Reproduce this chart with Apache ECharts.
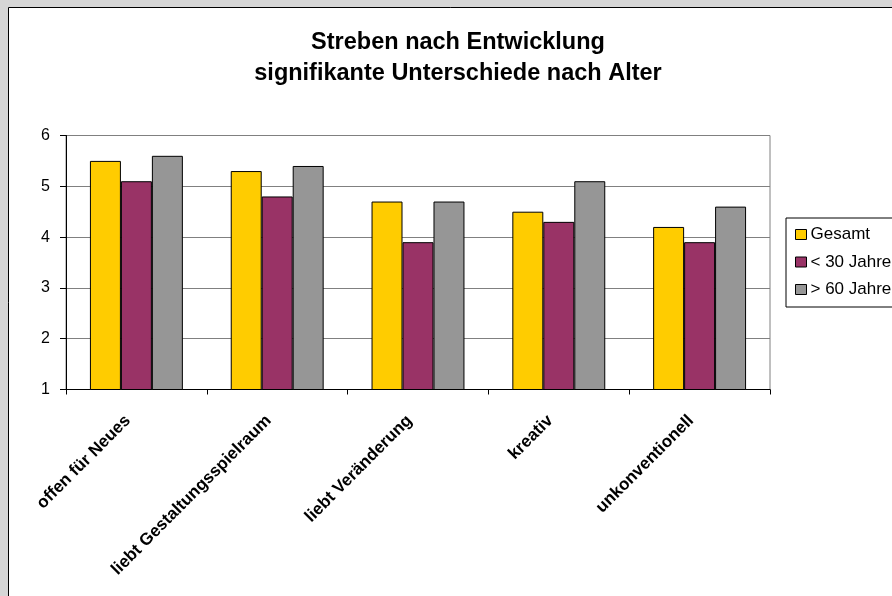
<!DOCTYPE html>
<html>
<head>
<meta charset="utf-8">
<script src="https://cdn.jsdelivr.net/npm/echarts@6/dist/echarts.min.js"></script>
<style>
  html, body { margin: 0; padding: 0; background: #d6d6d6; }
  #chart { width: 892px; height: 596px; }
</style>
</head>
<body>
<div id="chart"></div>
<script>
// Mittelwerte je Merkmal und Altersgruppe
const categories = ['offen für Neues', 'liebt Gestaltungsspielraum', 'liebt Veränderung', 'kreativ', 'unkonventionell'];
const gesamt   = [5.5, 5.3, 4.7, 4.5, 4.2];
const unter30  = [5.1, 4.8, 3.9, 4.3, 3.9];
const ueber60  = [5.6, 5.4, 4.7, 5.1, 4.6];
const seriesNames = ['Gesamt', '< 30 Jahre', '> 60 Jahre'];
const yTicks = [1, 2, 3, 4, 5, 6];

const colors = ['#FFCC00', '#993366', '#969696'];
const font = 'Liberation Sans, Arial, sans-serif';

const chart = echarts.init(document.getElementById('chart'), null, { renderer: 'canvas' });

function bar(name, data, color) {
  return {
    name: name,
    type: 'bar',
    data: data,
    barWidth: '22%',
    barGap: '0%',
    itemStyle: { color: color, borderColor: '#000', borderWidth: 1 },
    emphasis: { disabled: true }
  };
}

chart.setOption({
  animation: false,
  backgroundColor: '#d6d6d6',
  graphic: [
    {
      type: 'rect',
      z: -10,
      shape: { x: 8.5, y: 7.5, width: 900, height: 600 },
      style: { fill: '#fff', stroke: '#000', lineWidth: 1 }
    },
    {
      type: 'text',
      x: 458,
      y: 27,
      style: {
        text: 'Streben nach Entwicklung\nsignifikante Unterschiede nach Alter',
        fill: '#000',
        font: 'bold 23.5px ' + font,
        lineHeight: 31,
        align: 'center',
        verticalAlign: 'top'
      }
    }
  ],
  legend: {
    orient: 'vertical',
    left: 786,
    top: 218,
    padding: [8, 40, 9, 9],
    itemGap: 10.5,
    itemWidth: 11,
    itemHeight: 10,
    borderColor: '#000',
    borderWidth: 1,
    backgroundColor: '#fff',
    icon: 'rect',
    itemStyle: { borderColor: '#000', borderWidth: 1 },
    textStyle: { fontFamily: font, fontSize: 17, color: '#000', padding: [0, 0, 0, -1] },
    data: seriesNames
  },
  grid: {
    left: 66, right: 122, top: 135.5, bottom: 206.5,
    show: true,
    borderColor: '#808080',
    borderWidth: 1,
    containLabel: false
  },
  xAxis: {
    type: 'category',
    data: categories,
    boundaryGap: true,
    axisLine: { lineStyle: { color: '#000', width: 1 } },
    axisTick: { show: true, length: 5, lineStyle: { color: '#000' } },
    axisLabel: {
      interval: 0,
      rotate: 45,
      margin: 20,
      padding: [0, 12, 0, 0],
      fontFamily: font,
      fontSize: 17,
      fontWeight: 'bold',
      color: '#000'
    },
    splitLine: { show: false }
  },
  yAxis: {
    type: 'value',
    min: yTicks[0],
    max: yTicks[yTicks.length - 1],
    interval: 1,
    axisLine: { show: true, lineStyle: { color: '#000', width: 1 } },
    axisTick: { show: true, length: 6, inside: false, lineStyle: { color: '#000' } },
    axisLabel: { fontFamily: font, fontSize: 16, color: '#000', margin: 16 },
    splitLine: { show: true, lineStyle: { color: '#808080', width: 1 } }
  },
  series: [
    bar(seriesNames[0], gesamt, colors[0]),
    bar(seriesNames[1], unter30, colors[1]),
    bar(seriesNames[2], ueber60, colors[2])
  ]
});
</script>
</body>
</html>
